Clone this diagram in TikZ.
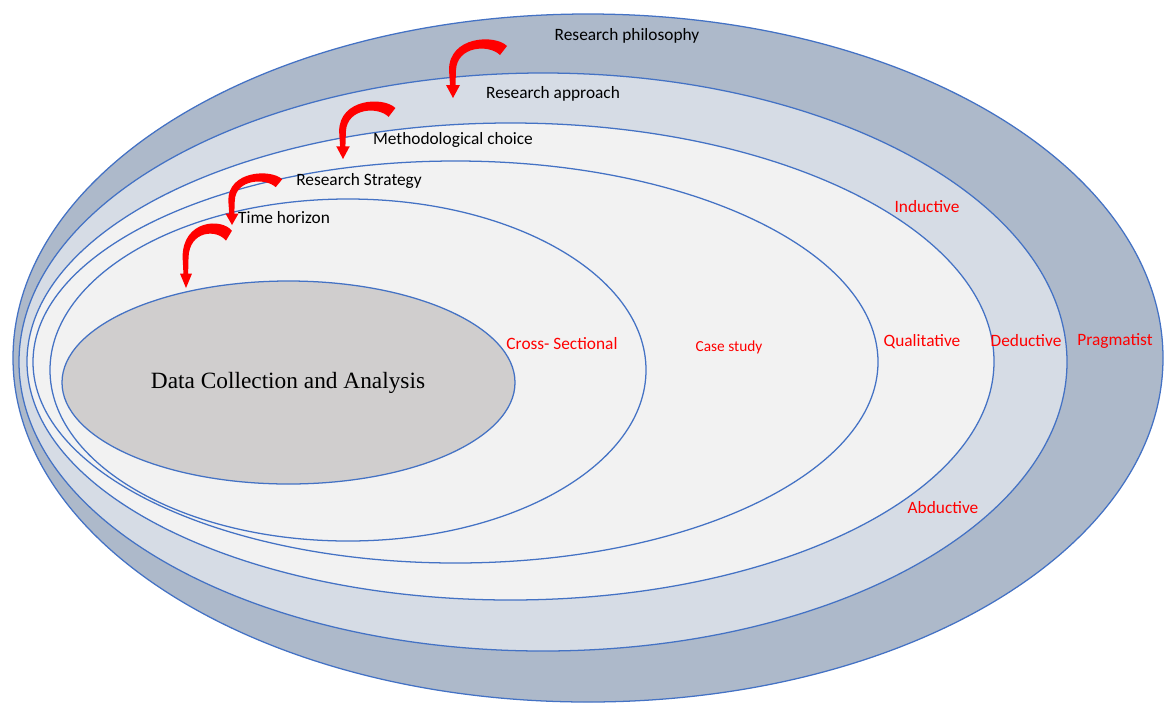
\documentclass[tikz,border=0pt]{standalone}
\usepackage{fontspec}
\setmainfont{Carlito}
\newfontfamily\timesf{Liberation Serif}
\definecolor{ringline}{HTML}{4472C4}
\definecolor{ringA}{HTML}{ADB9CA}
\definecolor{ringB}{HTML}{D6DCE5}
\definecolor{ringC}{HTML}{F2F2F2}
\definecolor{corefill}{HTML}{D0CECE}
\definecolor{redtxt}{HTML}{FF0000}
\begin{document}
\begin{tikzpicture}[x=0.75pt,y=-0.75pt,
  ring/.style={draw=ringline,line width=0.95pt},
  lbl/.style={font=\fontsize{13}{15}\selectfont,text=black,inner sep=0pt,text height=0.72em,text depth=0.22em},
  rlbl/.style={font=\fontsize{13}{15}\selectfont,text=redtxt,inner sep=0pt,text height=0.72em,text depth=0.22em},
  redhook/.pic={\fill[red] (54,-52) .. controls (42,-64) and (-4,-62) .. (-4,-28) -- (-3,-13) -- (-7,-13) -- (0,0) -- (7,-13) -- (2.5,-13) -- (3,-28) .. controls (4,-52) and (36,-54) .. (47,-43) -- cycle;}
]
\useasboundingbox (0,0) rectangle (1167,704);
% rings
\path[ring,fill=ringA] (588,358) ellipse [x radius=575, y radius=344];
\path[ring,fill=ringB] (543,362) ellipse [x radius=524, y radius=289];
\path[ring,fill=ringC] (510.5,361.5) ellipse [x radius=483.5, y radius=238.5];
\path[ring,fill=ringC] (455.5,362) ellipse [x radius=422.5, y radius=201];
\path[ring,fill=ringC] (348,370) ellipse [x radius=298, y radius=171];
\path[ring,fill=corefill] (288.5,382.5) ellipse [x radius=226.5, y radius=101.5];
% arrows
\pic at (453,98) {redhook};
\pic[xscale=0.97,yscale=0.98] at (343,159) {redhook};
\pic[xscale=0.93,yscale=0.88] at (232,225) {redhook};
\pic[xscale=0.85,yscale=1.1] at (186,288) {redhook};
% black labels
\node[lbl] (phil) at (627,37) {Research philosophy};
\node[lbl] (appr) at (553,95) {Research approach};
\node[lbl] (meth) at (453,141) {Methodological choice};
\node[lbl] (strat) at (359,182) {Research Strategy};
\node[lbl] (time) at (284,220) {Time horizon};
\node[font=\timesf\fontsize{17.5}{20}\selectfont,inner sep=0pt] (data) at (288,383) {Data Collection and Analysis};
% red labels
\node[rlbl] (induct) at (927,209) {Inductive};
\node[rlbl] (cross) at (562,346) {Cross- Sectional};
\node[rlbl,font=\fontsize{11.5}{13}\selectfont] (case) at (729,348) {Case study};
\node[rlbl] (qual) at (922,343) {Qualitative};
\node[rlbl] (deduct) at (1026,343) {Deductive};
\node[rlbl] (prag) at (1115,342) {Pragmatist};
\node[rlbl] (abduct) at (943,510) {Abductive};
\end{tikzpicture}
\end{document}
